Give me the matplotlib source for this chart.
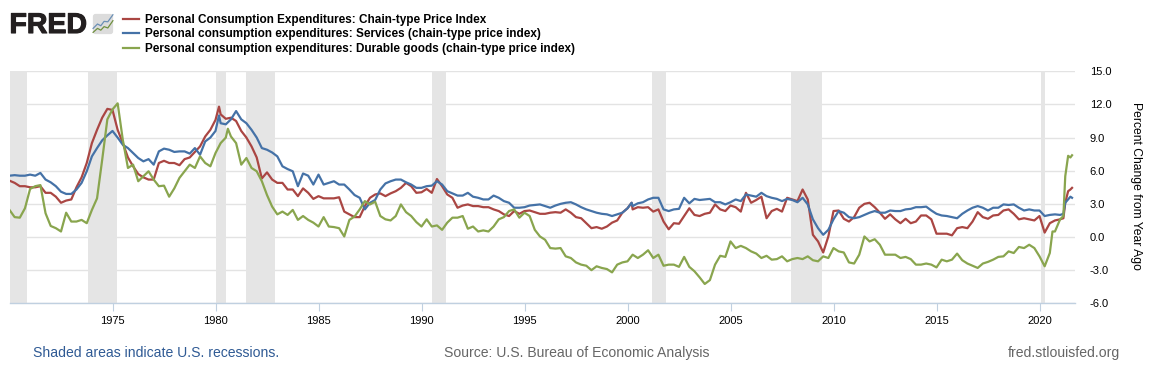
import matplotlib
matplotlib.use('Agg')
import matplotlib.pyplot as plt
from matplotlib.patches import FancyBboxPatch
import matplotlib.patheffects as pe

W, H = 1168, 378
plt.rcParams['font.family'] = ['Liberation Sans', 'DejaVu Sans']

# quarterly readings, one row per year, last row ends at the final month shown
pce = [
    5.1, 4.9, 4.6, 4.6,   # 1970
    4.5, 4.5, 4.6, 4.0,
    4.0, 3.65, 3.1, 3.3,
    3.4, 4.5, 5.4, 6.7,
    8.5, 9.7, 10.8, 11.6,
    11.5, 9.7, 8.5, 7.2,  # 1975
    6.4, 5.7, 5.4, 5.2,
    5.2, 6.7, 6.9, 6.7,
    6.7, 6.5, 7.05, 7.2,
    7.7, 8.2, 9.1, 9.7,
    10.6, 11.1, 10.7, 10.8,  # 1980
    10.5, 9.6, 9.0, 8.2,
    7.2, 5.3, 5.85, 5.2,
    4.9, 4.9, 4.3, 4.3,
    3.7, 4.4, 4.0, 3.45,
    3.7, 3.5, 3.5, 3.5,  # 1985
    3.6, 2.3, 2.05, 1.8,
    1.8, 2.8, 3.55, 3.85,
    3.95, 3.7, 3.95, 4.15,
    4.45, 4.9, 4.6, 4.0,
    4.05, 4.35, 4.0, 5.25,  # 1990
    4.6, 3.85, 3.55, 2.65,
    2.85, 2.95, 2.8, 2.8,
    2.7, 2.7, 2.5, 2.35,
    2.05, 1.9, 2.35, 2.1,
    2.35, 2.4, 2.25, 2.1,  # 1995
    2.1, 2.2, 2.25, 2.2,
    2.5, 2.2, 1.8, 1.7,
    1.25, 0.8, 0.9, 0.75,
    0.95, 1.3, 1.5, 2.2,
    2.6, 2.5, 2.7, 2.65,  # 2000
    2.7, 2.3, 2.5, 1.4,
    0.7, 1.25, 1.2, 1.9,
    2.6, 2.0, 1.9, 2.1,
    2.2, 2.95, 2.5, 2.35,
    2.85, 2.7, 2.3, 4.0,  # 2005
    3.1, 3.35, 3.65, 1.7,
    2.35, 2.55, 2.3, 3.55,
    3.4, 3.25, 4.3, 3.4,
    0.2, -0.4, -1.4, 0.05,
    2.35, 2.4, 1.65, 1.4,  # 2010
    1.8, 2.65, 3.0, 3.1,
    2.7, 2.2, 1.65, 2.05,
    1.6, 1.25, 1.65, 1.25,
    1.4, 1.95, 1.95, 1.6,
    0.3, 0.3, 0.3, 0.15,  # 2015
    0.8, 0.9, 0.8, 1.4,
    2.25, 1.8, 1.65, 1.95,
    2.0, 2.4, 2.5, 2.1,
    1.6, 1.7, 1.6, 1.5,
    1.9, 0.4, 1.25, 1.5,  # 2020
    1.6, 3.1, 4.3, 4.45,
]
services = [
    5.55, 5.6, 5.55, 5.55,
    5.65, 5.55, 5.8, 5.2,
    4.95, 4.6, 4.1, 3.9,
    3.9, 4.3, 4.9, 5.95,
    7.3, 8.05, 8.75, 9.2,
    9.6, 9.0, 8.35, 8.05,
    7.6, 7.15, 6.85, 7.05,
    6.55, 7.75, 8.0, 7.9,
    7.7, 7.75, 7.75, 7.55,
    8.05, 7.45, 8.65, 9.0,
    9.6, 10.3, 10.2, 10.65,
    11.4, 10.65, 10.3, 9.7,
    9.0, 8.05, 7.9, 7.65,
    7.3, 6.4, 6.15, 5.95,
    4.6, 5.75, 5.55, 4.75,
    5.65, 4.75, 4.9, 5.05,
    4.75, 4.75, 4.3, 3.8,
    3.55, 2.5, 3.1, 3.35,
    4.3, 4.85, 5.05, 5.2,
    5.2, 4.95, 4.75, 4.45,
    4.45, 4.6, 4.65, 5.05,
    4.75, 4.15, 3.95, 3.75,
    3.75, 4.0, 3.65, 3.55,
    3.4, 3.4, 3.75, 3.55,
    3.25, 3.1, 2.65, 2.65,
    2.7, 2.85, 2.9, 2.95,
    2.8, 2.65, 2.85, 3.0,
    3.1, 3.15, 2.95, 2.7,
    2.5, 2.35, 2.2, 2.1,
    2.05, 1.9, 2.05, 2.2,
    2.6, 2.8, 3.05, 3.15,
    3.4, 3.55, 3.55, 2.5,
    2.35, 2.5, 2.55, 3.55,
    3.05, 3.45, 3.35, 3.4,
    3.45, 3.15, 3.15, 2.95,
    3.15, 3.4, 3.25, 3.85,
    3.75, 3.65, 4.0, 3.7,
    3.55, 3.45, 3.25, 3.45,
    3.35, 3.15, 3.55, 2.95,
    1.6, 0.8, 0.2, 0.65,
    1.6, 2.35, 2.2, 1.8,
    1.7, 1.8, 2.0, 2.2,
    2.35, 2.2, 2.2, 2.4,
    2.35, 2.35, 2.5, 2.55,
    2.7, 2.7, 2.75, 2.4,
    2.1, 1.95, 1.9, 1.8,
    1.7, 2.1, 2.4, 2.65,
    2.8, 2.65, 2.4, 2.65,
    2.65, 2.95, 2.9, 2.95,
    2.65, 2.4, 2.5, 2.4,
    2.4, 1.9, 2.0, 2.05,
    2.0, 3.1, 3.65, 3.55,
]
durables = [
    2.45, 1.8, 1.75, 2.6,
    4.35, 4.6, 4.7, 2.15,
    1.0, 0.8, 0.5, 2.2,
    1.4, 1.4, 1.55, 1.25,
    2.45, 3.5, 7.0, 10.65,
    11.55, 12.1, 8.8, 6.25,
    6.55, 5.05, 5.5, 5.95,
    5.2, 4.6, 4.65, 3.65,
    4.4, 5.35, 5.95, 6.55,
    6.25, 7.3, 6.7, 6.4,
    7.6, 8.5, 9.0, 9.1,
    8.5, 6.55, 7.15, 6.25,
    5.95, 5.05, 3.8, 2.75,
    2.05, 2.3, 2.0, 2.45,
    1.55, 1.9, 1.55, 1.3,
    0.95, 1.8, 0.95, 0.9,
    0.8, 0.05, 1.55, 1.85,
    2.5, 3.25, 2.95, 3.2,
    1.9, 1.6, 1.5, 1.9,
    2.95, 2.25, 1.9, 1.35,
    0.95, 1.6, 0.95, 1.05,
    0.65, 1.3, 1.75, 1.75,
    1.9, 0.75, 0.95, 0.5,
    0.6, 0.5, 0.95, 1.6,
    1.8, 2.35, 2.5, 1.75,
    2.2, 1.9, 0.65, 0.05,
    -0.25, -1.0, -1.05, -1.0,
    -1.75, -1.9, -2.3, -2.5,
    -2.6, -3.0, -2.65, -2.8,
    -2.9, -3.2, -2.5, -2.3,
    -2.2, -1.6, -1.9, -1.6,
    -1.2, -1.9, -1.6, -2.6,
    -2.5, -2.5, -2.7, -1.8,
    -2.7, -3.1, -3.65, -4.25,
    -3.9, -2.5, -1.7, -1.8,
    -0.4, -1.0, -0.8, -1.0,
    -1.3, -1.5, -1.9, -1.7,
    -2.05, -2.0, -1.75, -2.2,
    -2.0, -1.9, -2.0, -1.75,
    -2.1, -2.2, -1.75, -1.9,
    -1.0, -1.3, -1.4, -2.3,
    -2.4, -1.6, 0.05, -0.4,
    -0.2, -0.7, -1.6, -1.6,
    -1.6, -1.9, -1.8, -2.0,
    -2.5, -2.5, -2.4, -2.5,
    -2.75, -2.05, -2.2, -2.05,
    -1.5, -2.1, -2.4, -2.6,
    -2.8, -2.4, -2.25, -2.05,
    -1.8, -1.75, -1.3, -1.45,
    -0.9, -1.0, -0.7, -1.0,
    -1.75, -2.65, -1.45, 0.5,
    1.6, 5.5, 7.2, 7.4,
]
dates = [y + q / 4 for y in range(1970, 2021) for q in range(4)] + [2021.0, 2021.25, 2021.5, 2021.58]

# sharp moves that fall between quarters
pce_peaks = [(1980.17, 11.8), (2000.2, 3.1), (2021.16, 1.7), (2021.39, 4.15)]
services_peaks = [(1980.17, 11.0), (2000.2, 3.1), (2021.16, 2.1)]
durables_peaks = [(1980.6, 9.8), (2020.63, 0.5), (2021.16, 1.9), (2021.39, 7.35)]

recessions = [(1969.95, 1970.87), (1973.83, 1975.2), (1980.0, 1980.5), (1981.5, 1982.87),
              (1990.5, 1991.2), (2001.17, 2001.87), (2007.92, 2009.45), (2020.08, 2020.29)]

labels = ['Personal Consumption Expenditures: Chain-type Price Index',
          'Personal consumption expenditures: Services (chain-type price index)',
          'Personal consumption expenditures: Durable goods (chain-type price index)']
colors = ['#aa4643', '#4572a7', '#89a54e']
x_ticks = list(range(1975, 2025, 5))
y_ticks = [-6, -3, 0, 3, 6, 9, 12, 15]


def fx(px):
    return px / W


def fy(py):
    return 1 - py / H


def merged(vals, peaks):
    pts = sorted(list(zip(dates, vals)) + peaks)
    return [p[0] for p in pts], [p[1] for p in pts]


fig = plt.figure(figsize=(W / 100, H / 100), dpi=100)
ax = fig.add_axes([fx(9.5), fy(303.3), (1074.5 - 9.5) / W, (303.3 - 71.3) / H])

for a, b in recessions:
    ax.axvspan(a, b, color='#e5e5e5', lw=0, zorder=1)

handles = []
for vals, peaks, c, lab in zip([pce, services, durables], [pce_peaks, services_peaks, durables_peaks], colors, labels):
    xs, ys = merged(vals, peaks)
    h, = ax.plot(xs, ys, color=c, lw=1.6, label=lab, zorder=3, solid_joinstyle='round')
    handles.append(h)

ax.set_xlim(1970, 1970 + 1065 / 20.6)
ax.set_ylim(-6, 15)
ax.set_yticks(y_ticks)
ax.set_yticklabels(['%.1f' % v for v in y_ticks])
ax.set_xticks(x_ticks)
ax.yaxis.tick_right()
ax.grid(axis='y', color='#e3e3e3', lw=1.0, zorder=0)
ax.set_axisbelow(True)
for s in ['top', 'left', 'right']:
    ax.spines[s].set_visible(False)
ax.spines['bottom'].set_color('#c0d0e0')
ax.spines['bottom'].set_linewidth(1.0)
ax.tick_params(axis='y', length=0, pad=11, labelsize=8)
ax.tick_params(axis='x', length=6, width=0.8, color='#c0d0e0', pad=3.5, labelsize=8)
for t in ax.get_yticklabels():
    t.set_ha('left')

fig.text(fx(1136), fy(186), 'Percent Change from Year Ago', rotation=270, ha='center', va='center', fontsize=8.7)

fig.legend(handles=handles, loc='upper left', bbox_to_anchor=(fx(123), fy(14)), borderaxespad=0, borderpad=0,
           frameon=False, prop={'weight': 'bold', 'size': 8.5}, handlelength=1.34, handletextpad=0.5,
           labelspacing=0.2)

fig.text(fx(33), fy(353), 'Shaded areas indicate U.S. recessions.', color='#2f5a94', fontsize=10.1, ha='left', va='center')
fig.text(fx(444), fy(353), 'Source: U.S. Bureau of Economic Analysis', color='#666666', fontsize=10.1, ha='left', va='center')
fig.text(fx(1120), fy(353), 'fred.stlouisfed.org', color='#666666', fontsize=10.1, ha='right', va='center')

# FRED logo
logo = fig.text(fx(9.5), fy(33), 'FRED', color='#231f20', fontsize=20.5, fontweight='bold', ha='left', va='baseline')
logo.set_path_effects([pe.withStroke(linewidth=0.8, foreground='#231f20')])
icon = fig.add_axes([fx(92), fy(35), 22 / W, 22 / H])
icon.axis('off')
icon.set_xlim(0, 1)
icon.set_ylim(0, 1)
icon.add_patch(FancyBboxPatch((0.04, 0.04), 0.92, 0.92, boxstyle='round,pad=0,rounding_size=0.12', fc='#dcdcdc', ec='none'))
icon.plot([0.05, 0.25, 0.4, 0.55, 0.72, 0.95], [0.3, 0.5, 0.42, 0.62, 0.6, 0.92], color='#6a8fb5', lw=0.9)
icon.plot([0.05, 0.25, 0.4, 0.55, 0.72, 0.95], [0.12, 0.3, 0.22, 0.38, 0.32, 0.65], color='#6f8f3f', lw=0.9)

fig.savefig('out.png', dpi=100)
